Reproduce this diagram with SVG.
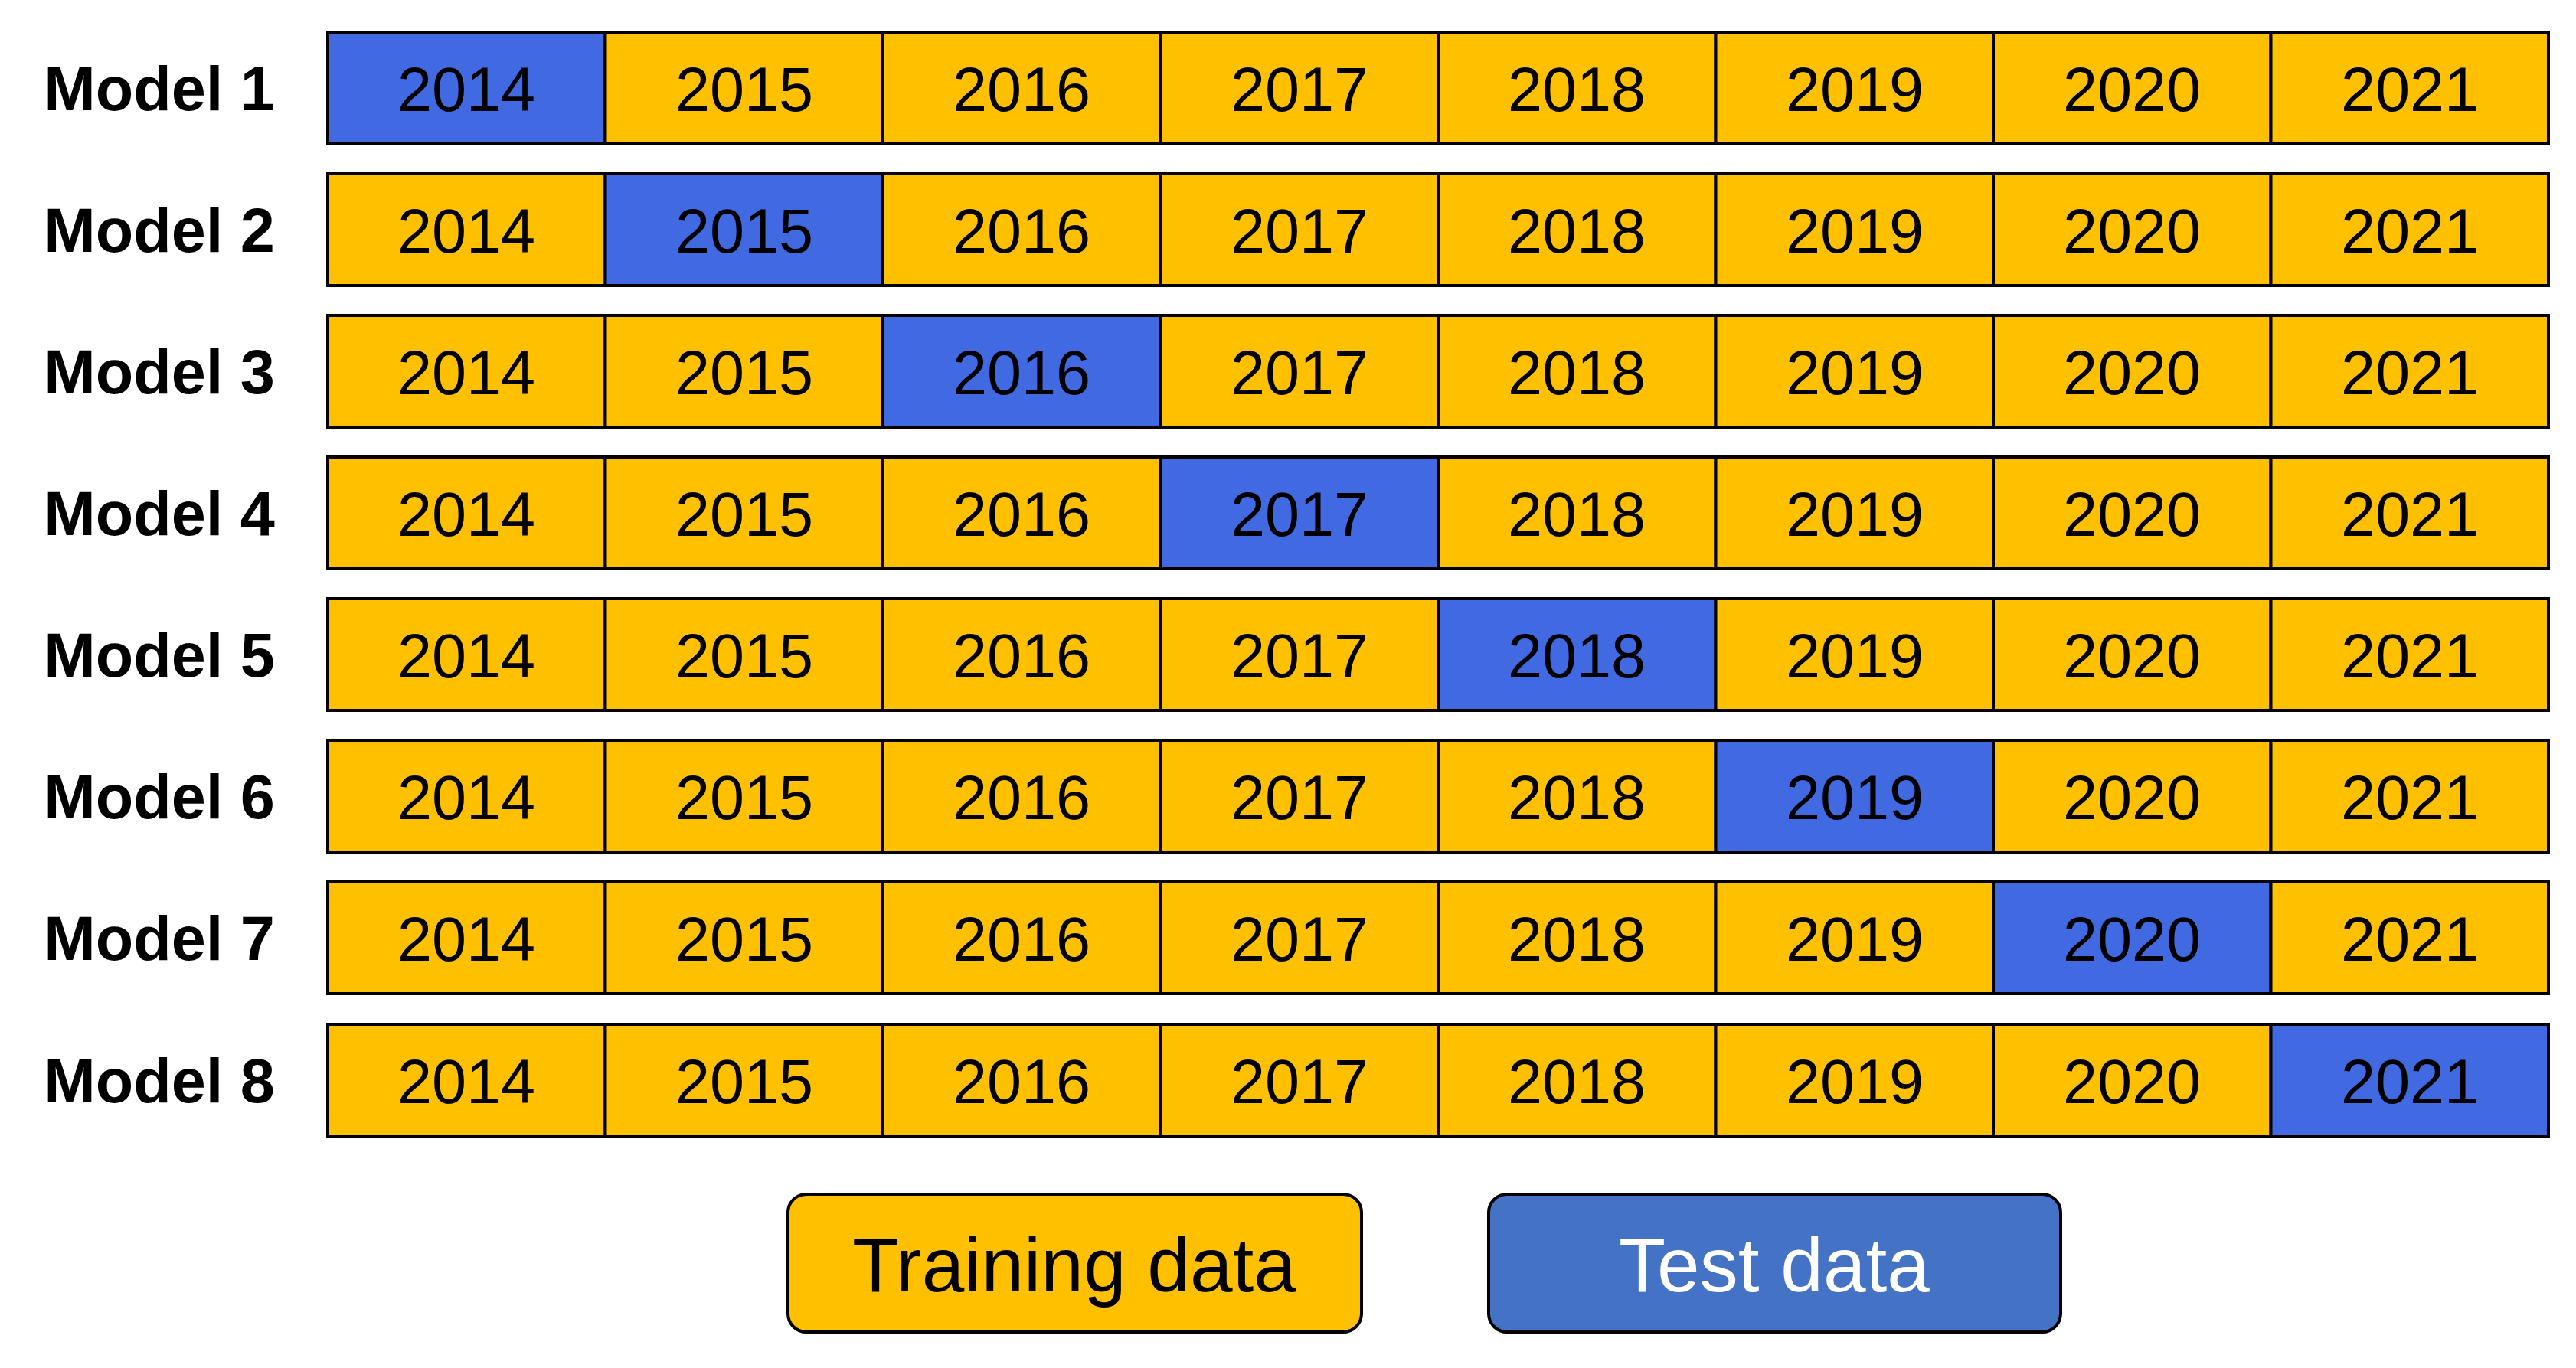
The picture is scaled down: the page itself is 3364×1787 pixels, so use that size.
<svg xmlns="http://www.w3.org/2000/svg" width="3364" height="1787" viewBox="0 0 3364 1787">
<style>
.tr{fill:#FFC000;stroke:#000;stroke-width:4}
.te{fill:#4169E1;stroke:#000;stroke-width:4}
.yr{font-family:"Liberation Sans",Arial,sans-serif;font-size:81px;fill:#000;text-anchor:middle}
.lb{font-family:"Liberation Sans",Arial,sans-serif;font-size:81px;font-weight:bold;fill:#000;text-anchor:middle}
.lg{font-family:"Liberation Sans",Arial,sans-serif;font-size:100px;text-anchor:middle}
</style>
<rect width="3364" height="1787" fill="#fff"/>
<g id="model1">
<text class="lb" x="208" y="144">Model 1</text>
<rect class="te" x="428" y="42" width="362.5" height="146"/><text class="yr" x="609" y="145">2014</text>
<rect class="tr" x="790.5" y="42" width="362.5" height="146"/><text class="yr" x="972" y="145">2015</text>
<rect class="tr" x="1153" y="42" width="362.5" height="146"/><text class="yr" x="1334" y="145">2016</text>
<rect class="tr" x="1515.5" y="42" width="362.5" height="146"/><text class="yr" x="1697" y="145">2017</text>
<rect class="tr" x="1878" y="42" width="362.5" height="146"/><text class="yr" x="2059" y="145">2018</text>
<rect class="tr" x="2240.5" y="42" width="362.5" height="146"/><text class="yr" x="2422" y="145">2019</text>
<rect class="tr" x="2603" y="42" width="362.5" height="146"/><text class="yr" x="2784" y="145">2020</text>
<rect class="tr" x="2965.5" y="42" width="362.5" height="146"/><text class="yr" x="3147" y="145">2021</text>
</g>
<g id="model2" transform="translate(0,185)">
<text class="lb" x="208" y="144">Model 2</text>
<rect class="tr" x="428" y="42" width="362.5" height="146"/><text class="yr" x="609" y="145">2014</text>
<rect class="te" x="790.5" y="42" width="362.5" height="146"/><text class="yr" x="972" y="145">2015</text>
<rect class="tr" x="1153" y="42" width="362.5" height="146"/><text class="yr" x="1334" y="145">2016</text>
<rect class="tr" x="1515.5" y="42" width="362.5" height="146"/><text class="yr" x="1697" y="145">2017</text>
<rect class="tr" x="1878" y="42" width="362.5" height="146"/><text class="yr" x="2059" y="145">2018</text>
<rect class="tr" x="2240.5" y="42" width="362.5" height="146"/><text class="yr" x="2422" y="145">2019</text>
<rect class="tr" x="2603" y="42" width="362.5" height="146"/><text class="yr" x="2784" y="145">2020</text>
<rect class="tr" x="2965.5" y="42" width="362.5" height="146"/><text class="yr" x="3147" y="145">2021</text>
</g>
<g id="model3" transform="translate(0,370)">
<text class="lb" x="208" y="144">Model 3</text>
<rect class="tr" x="428" y="42" width="362.5" height="146"/><text class="yr" x="609" y="145">2014</text>
<rect class="tr" x="790.5" y="42" width="362.5" height="146"/><text class="yr" x="972" y="145">2015</text>
<rect class="te" x="1153" y="42" width="362.5" height="146"/><text class="yr" x="1334" y="145">2016</text>
<rect class="tr" x="1515.5" y="42" width="362.5" height="146"/><text class="yr" x="1697" y="145">2017</text>
<rect class="tr" x="1878" y="42" width="362.5" height="146"/><text class="yr" x="2059" y="145">2018</text>
<rect class="tr" x="2240.5" y="42" width="362.5" height="146"/><text class="yr" x="2422" y="145">2019</text>
<rect class="tr" x="2603" y="42" width="362.5" height="146"/><text class="yr" x="2784" y="145">2020</text>
<rect class="tr" x="2965.5" y="42" width="362.5" height="146"/><text class="yr" x="3147" y="145">2021</text>
</g>
<g id="model4" transform="translate(0,555)">
<text class="lb" x="208" y="144">Model 4</text>
<rect class="tr" x="428" y="42" width="362.5" height="146"/><text class="yr" x="609" y="145">2014</text>
<rect class="tr" x="790.5" y="42" width="362.5" height="146"/><text class="yr" x="972" y="145">2015</text>
<rect class="tr" x="1153" y="42" width="362.5" height="146"/><text class="yr" x="1334" y="145">2016</text>
<rect class="te" x="1515.5" y="42" width="362.5" height="146"/><text class="yr" x="1697" y="145">2017</text>
<rect class="tr" x="1878" y="42" width="362.5" height="146"/><text class="yr" x="2059" y="145">2018</text>
<rect class="tr" x="2240.5" y="42" width="362.5" height="146"/><text class="yr" x="2422" y="145">2019</text>
<rect class="tr" x="2603" y="42" width="362.5" height="146"/><text class="yr" x="2784" y="145">2020</text>
<rect class="tr" x="2965.5" y="42" width="362.5" height="146"/><text class="yr" x="3147" y="145">2021</text>
</g>
<g id="model5" transform="translate(0,740)">
<text class="lb" x="208" y="144">Model 5</text>
<rect class="tr" x="428" y="42" width="362.5" height="146"/><text class="yr" x="609" y="145">2014</text>
<rect class="tr" x="790.5" y="42" width="362.5" height="146"/><text class="yr" x="972" y="145">2015</text>
<rect class="tr" x="1153" y="42" width="362.5" height="146"/><text class="yr" x="1334" y="145">2016</text>
<rect class="tr" x="1515.5" y="42" width="362.5" height="146"/><text class="yr" x="1697" y="145">2017</text>
<rect class="te" x="1878" y="42" width="362.5" height="146"/><text class="yr" x="2059" y="145">2018</text>
<rect class="tr" x="2240.5" y="42" width="362.5" height="146"/><text class="yr" x="2422" y="145">2019</text>
<rect class="tr" x="2603" y="42" width="362.5" height="146"/><text class="yr" x="2784" y="145">2020</text>
<rect class="tr" x="2965.5" y="42" width="362.5" height="146"/><text class="yr" x="3147" y="145">2021</text>
</g>
<g id="model6" transform="translate(0,925)">
<text class="lb" x="208" y="144">Model 6</text>
<rect class="tr" x="428" y="42" width="362.5" height="146"/><text class="yr" x="609" y="145">2014</text>
<rect class="tr" x="790.5" y="42" width="362.5" height="146"/><text class="yr" x="972" y="145">2015</text>
<rect class="tr" x="1153" y="42" width="362.5" height="146"/><text class="yr" x="1334" y="145">2016</text>
<rect class="tr" x="1515.5" y="42" width="362.5" height="146"/><text class="yr" x="1697" y="145">2017</text>
<rect class="tr" x="1878" y="42" width="362.5" height="146"/><text class="yr" x="2059" y="145">2018</text>
<rect class="te" x="2240.5" y="42" width="362.5" height="146"/><text class="yr" x="2422" y="145">2019</text>
<rect class="tr" x="2603" y="42" width="362.5" height="146"/><text class="yr" x="2784" y="145">2020</text>
<rect class="tr" x="2965.5" y="42" width="362.5" height="146"/><text class="yr" x="3147" y="145">2021</text>
</g>
<g id="model7" transform="translate(0,1110)">
<text class="lb" x="208" y="144">Model 7</text>
<rect class="tr" x="428" y="42" width="362.5" height="146"/><text class="yr" x="609" y="145">2014</text>
<rect class="tr" x="790.5" y="42" width="362.5" height="146"/><text class="yr" x="972" y="145">2015</text>
<rect class="tr" x="1153" y="42" width="362.5" height="146"/><text class="yr" x="1334" y="145">2016</text>
<rect class="tr" x="1515.5" y="42" width="362.5" height="146"/><text class="yr" x="1697" y="145">2017</text>
<rect class="tr" x="1878" y="42" width="362.5" height="146"/><text class="yr" x="2059" y="145">2018</text>
<rect class="tr" x="2240.5" y="42" width="362.5" height="146"/><text class="yr" x="2422" y="145">2019</text>
<rect class="te" x="2603" y="42" width="362.5" height="146"/><text class="yr" x="2784" y="145">2020</text>
<rect class="tr" x="2965.5" y="42" width="362.5" height="146"/><text class="yr" x="3147" y="145">2021</text>
</g>
<g id="model8" transform="translate(0,1296)">
<text class="lb" x="208" y="144">Model 8</text>
<rect class="tr" x="428" y="42" width="362.5" height="146"/><text class="yr" x="609" y="145">2014</text>
<rect class="tr" x="790.5" y="42" width="362.5" height="146"/><text class="yr" x="972" y="145">2015</text>
<rect class="tr" x="1153" y="42" width="362.5" height="146"/><text class="yr" x="1334" y="145">2016</text>
<rect class="tr" x="1515.5" y="42" width="362.5" height="146"/><text class="yr" x="1697" y="145">2017</text>
<rect class="tr" x="1878" y="42" width="362.5" height="146"/><text class="yr" x="2059" y="145">2018</text>
<rect class="tr" x="2240.5" y="42" width="362.5" height="146"/><text class="yr" x="2422" y="145">2019</text>
<rect class="tr" x="2603" y="42" width="362.5" height="146"/><text class="yr" x="2784" y="145">2020</text>
<rect class="te" x="2965.5" y="42" width="362.5" height="146"/><text class="yr" x="3147" y="145">2021</text>
</g>
<g id="legend-training">
<rect x="1029" y="1560" width="749" height="180" rx="24" fill="#FFC000" stroke="#000" stroke-width="4"/>
<text class="lg" x="1403" y="1687" fill="#000">Training data</text>
</g>
<g id="legend-test">
<rect x="1944" y="1560" width="747" height="180" rx="24" fill="#4472C4" stroke="#000" stroke-width="4"/>
<text class="lg" x="2317" y="1687" fill="#fff">Test data</text>
</g>
<g id="connectors"/>
</svg>
